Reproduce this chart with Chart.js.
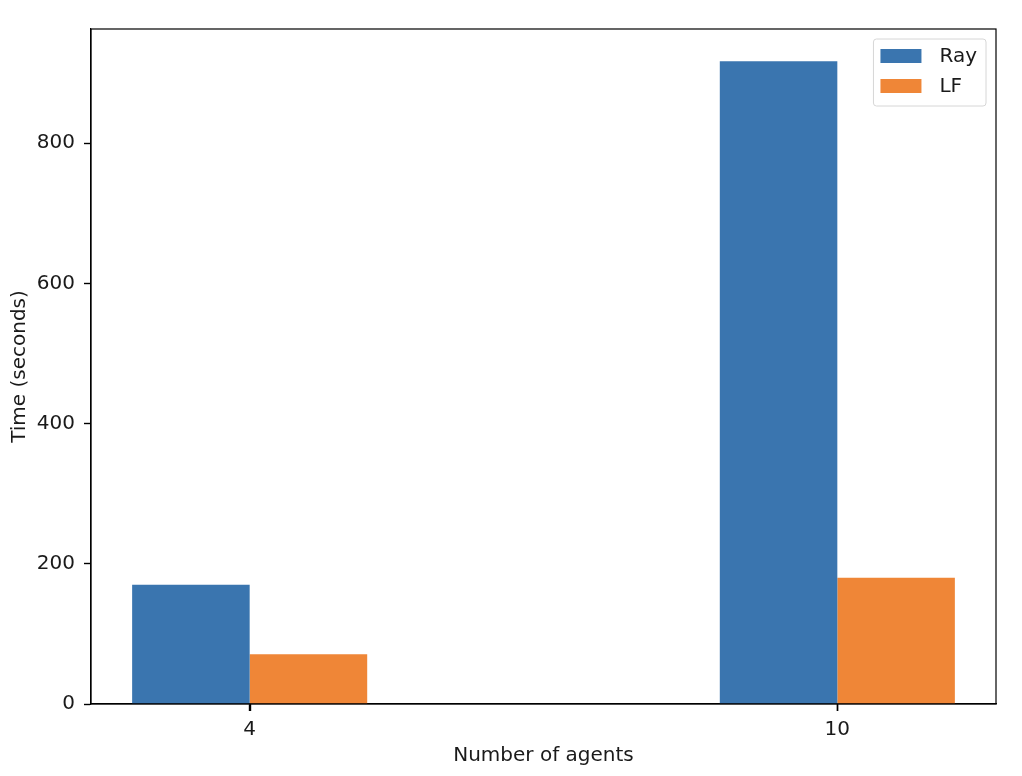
<!DOCTYPE html>
<html>
<head>
<meta charset="utf-8">
<script src="https://cdn.jsdelivr.net/npm/chart.js@4.4.1/dist/chart.umd.min.js"></script>
<style>
    html, body { margin: 0; padding: 0; background: #fff; }
    #wrap { width: 1022px; height: 776px; }
</style>
</head>
<body>
<div id="wrap"><canvas id="timeChart" width="1022" height="776"></canvas></div>
<script>
// Chart data
const categories = ['4', '10'];
const rayTimes = [170, 917];
const lfTimes = [71, 180];
const yTicks = [0, 200, 400, 600, 800];

const FONT = 'DejaVu Sans';
const TEXT = '#1a1a1a';

// Frame around the plot area (matplotlib style box) plus x tick marks
const frameBox = {
    id: 'frameBox',
    afterDraw(chart) {
        const a = chart.chartArea;
        const ctx = chart.ctx;
        const xs = chart.scales.x;
        ctx.save();
        ctx.strokeStyle = '#000';
        ctx.lineWidth = 1.2;
        ctx.strokeRect(a.left, a.top, a.right - a.left, a.bottom - a.top);
        ctx.lineWidth = 1.4;
        xs.ticks.forEach(t => {
            const px = Math.round(xs.getPixelForValue(t.value)) + 0.5;
            ctx.beginPath();
            ctx.moveTo(px, a.bottom);
            ctx.lineTo(px, a.bottom + 7);
            ctx.stroke();
        });
        ctx.restore();
    }
};

// Legend inside the plot, top right
const insideLegend = {
    id: 'insideLegend',
    afterDraw(chart) {
        const a = chart.chartArea;
        const ctx = chart.ctx;
        const sets = chart.data.datasets;
        ctx.save();
        ctx.font = '20px "' + FONT + '"';
        let textW = 0;
        sets.forEach(ds => { textW = Math.max(textW, ctx.measureText(ds.label).width); });
        const patchW = 41, patchH = 14, rowH = 30, padL = 7, padR = 9, gap = 18;
        const boxW = padL + patchW + gap + textW + padR;
        const boxH = 67;
        const x = a.right - 10 - boxW;
        const y = a.top + 10;

        ctx.beginPath();
        ctx.roundRect(x, y, boxW, boxH, 3);
        ctx.fillStyle = 'rgba(255,255,255,0.8)';
        ctx.fill();
        ctx.strokeStyle = '#d6d6d6';
        ctx.lineWidth = 1;
        ctx.stroke();

        sets.forEach((ds, i) => {
            const cy = y + 17 + i * rowH;
            ctx.fillStyle = ds.backgroundColor;
            ctx.fillRect(x + padL, cy - patchH / 2, patchW, patchH);
            ctx.fillStyle = TEXT;
            ctx.textBaseline = 'middle';
            ctx.textAlign = 'left';
            ctx.fillText(ds.label, x + padL + patchW + gap, cy + 1);
        });
        ctx.restore();
    }
};

new Chart(document.getElementById('timeChart'), {
    type: 'bar',
    data: {
        datasets: [{
            label: 'Ray',
            data: rayTimes.map((v, i) => ({ x: i, y: v })),
            backgroundColor: '#3a75af'
        }, {
            label: 'LF',
            data: lfTimes.map((v, i) => ({ x: i, y: v })),
            backgroundColor: '#ef8637'
        }]
    },
    options: {
        responsive: false,
        animation: false,
        layout: { padding: { top: 29, right: 26, left: 0, bottom: 0 } },
        datasets: {
            bar: { categoryPercentage: 0.4, barPercentage: 1.0, borderWidth: 0 }
        },
        plugins: {
            legend: { display: false },
            tooltip: { enabled: false }
        },
        scales: {
            x: {
                type: 'linear',
                offset: false,
                min: -0.27,
                max: 1.27,
                afterBuildTicks: scale => {
                    scale.ticks = categories.map((c, i) => ({ value: i }));
                },
                afterFit: scale => { scale.height = 72; },
                ticks: {
                    callback: v => categories[v],
                    color: TEXT,
                    font: { family: FONT, size: 20 },
                    padding: 7,
                    maxRotation: 0
                },
                grid: {
                    offset: false,
                    drawOnChartArea: false,
                    drawTicks: true,
                    tickLength: 7,
                    tickColor: '#000',
                    tickWidth: 1.4
                },
                border: { display: true, color: '#000', width: 1.2 },
                title: {
                    display: true,
                    text: 'Number of agents',
                    color: TEXT,
                    font: { family: FONT, size: 20 },
                    padding: { top: 0, bottom: 8 }
                }
            },
            y: {
                min: 0,
                max: 963,
                afterBuildTicks: scale => {
                    scale.ticks = yTicks.map(v => ({ value: v }));
                },
                afterFit: scale => { scale.width = 91; },
                ticks: {
                    color: TEXT,
                    font: { family: FONT, size: 20 },
                    padding: 9
                },
                grid: {
                    drawOnChartArea: false,
                    drawTicks: true,
                    tickLength: 7,
                    tickColor: '#000',
                    tickWidth: 1.4
                },
                border: { display: true, color: '#000', width: 1.2 },
                title: {
                    display: true,
                    text: 'Time (seconds)',
                    color: TEXT,
                    font: { family: FONT, size: 20 },
                    padding: { top: 8, bottom: 0 }
                }
            }
        }
    },
    plugins: [frameBox, insideLegend]
});
</script>
</body>
</html>
